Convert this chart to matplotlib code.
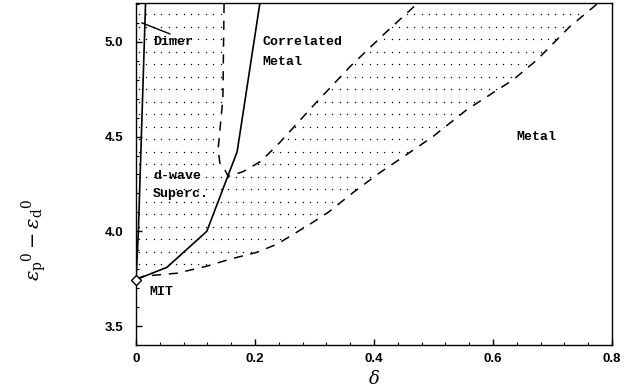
import numpy as np
import matplotlib.pyplot as plt
from matplotlib.patches import Polygon
from matplotlib.ticker import MultipleLocator

# punto MIT
mit_delta = 0.0
mit_eps = 3.745

# frontera Dimer / d-wave (linea continua casi vertical)
dimer_delta = [0.0, 0.004, 0.009, 0.016]
dimer_eps = [3.745, 4.0, 4.5, 5.2]

# frontera del metal correlacionado (linea continua)
cm_delta = [0.0, 0.052, 0.119, 0.170, 0.208]
cm_eps = [3.745, 3.81, 4.0, 4.42, 5.2]

# frontera superior del superconductor (discontinua)
sc_up_delta = [0.148, 0.146, 0.140, 0.138, 0.141, 0.150, 0.155, 0.180, 0.210,
               0.242, 0.300, 0.360, 0.420, 0.472]
sc_up_eps = [5.2, 4.7, 4.5, 4.43, 4.36, 4.32, 4.29, 4.315, 4.37,
             4.47, 4.67, 4.87, 5.05, 5.2]

# frontera inferior del superconductor (discontinua)
sc_low_delta = [0.0, 0.012, 0.069, 0.119, 0.158, 0.203, 0.237, 0.292, 0.323,
                0.365, 0.41, 0.46, 0.499, 0.556, 0.634, 0.674, 0.729, 0.775]
sc_low_eps = [3.745, 3.763, 3.779, 3.816, 3.853, 3.889, 3.932, 4.037, 4.10,
              4.205, 4.31, 4.416, 4.5, 4.642, 4.8, 4.905, 5.08, 5.2]

xticks = [0, 0.2, 0.4, 0.6, 0.8]
xticklabels = ['0', '0.2', '0.4', '0.6', '0.8']
yticks = [3.5, 4.0, 4.5, 5.0]
yticklabels = ['3.5', '4.0', '4.5', '5.0']

plt.rcParams['mathtext.fontset'] = 'dejavuserif'

fig = plt.figure(figsize=(6.29, 3.92), dpi=100)
ax = fig.add_axes([136/629, 1-345/392, (612-136)/629, (345-3)/392])
ax.set_xlim(0, 0.8)
ax.set_ylim(3.4, 5.205)

# region punteada (dimer + superconductor)
top = 5.205
region = ([(0.0, mit_eps), (0.0, top)]
          + list(zip(sc_up_delta, sc_up_eps))
          + [(sc_low_delta[-1], top)]
          + list(zip(sc_low_delta[::-1], sc_low_eps[::-1])))
poly = Polygon(region, closed=True, transform=ax.transData)
gx, gy = np.meshgrid(np.arange(0.005, 0.8, 0.0125), np.arange(3.76, 5.2, 0.066))
dots = ax.scatter(gx.ravel(), gy.ravel(), s=1.0, color='black', linewidths=0, zorder=1)
dots.set_clip_path(poly)

dash = (0, (6, 5))
ax.plot(dimer_delta, dimer_eps, color='black', lw=1.2, zorder=3)
ax.plot(cm_delta, cm_eps, color='black', lw=1.2, zorder=3)
ax.plot(sc_up_delta, sc_up_eps, color='black', lw=1.1, linestyle=dash, zorder=3)
ax.plot(sc_low_delta, sc_low_eps, color='black', lw=1.1, linestyle=dash, zorder=3)
ax.plot([mit_delta], [mit_eps], marker='D', ms=5.5, mfc='white', mec='black',
        mew=1.0, zorder=4, clip_on=False)

# flecha del Dimer
ax.plot([0.010, 0.057], [5.10, 5.042], color='black', lw=1.0)

tf = dict(family='Liberation Mono', fontweight='bold', fontsize=9.5, va='center')
ax.text(0.029, 5.0, 'Dimer', **tf)
ax.text(0.212, 5.0, 'Correlated', **tf)
ax.text(0.212, 4.895, 'Metal', **tf)
ax.text(0.029, 4.29, 'd-wave', **tf)
ax.text(0.029, 4.195, 'Superc.', **tf)
ax.text(0.640, 4.5, 'Metal', **tf)
ax.text(0.022, 3.68, 'MIT', **tf)

ax.set_xticks(xticks)
ax.set_xticklabels(xticklabels)
ax.set_yticks(yticks)
ax.set_yticklabels(yticklabels)
ax.xaxis.set_minor_locator(MultipleLocator(0.04))
ax.yaxis.set_minor_locator(MultipleLocator(0.1))
ax.tick_params(which='both', direction='in', top=False, right=False)
ax.tick_params(which='major', length=4, width=1)
ax.tick_params(which='minor', length=2, width=0.8)
ax.tick_params(axis='x', pad=6)
ax.tick_params(axis='y', pad=9)
for lab in ax.get_xticklabels() + ax.get_yticklabels():
    lab.set_fontfamily('Liberation Sans')
    lab.set_fontweight('bold')
    lab.set_fontsize(9.5)
for s in ax.spines.values():
    s.set_linewidth(1.0)

ax.set_xlabel(r'$\delta$', fontsize=13, labelpad=3)
fig.text(34/629, 1-240/392, r'$\varepsilon_{\rm p}{}^{0}-\varepsilon_{\rm d}{}^{0}$',
         rotation=90, ha='center', va='center', fontsize=14)

fig.savefig('out.png', dpi=100)
